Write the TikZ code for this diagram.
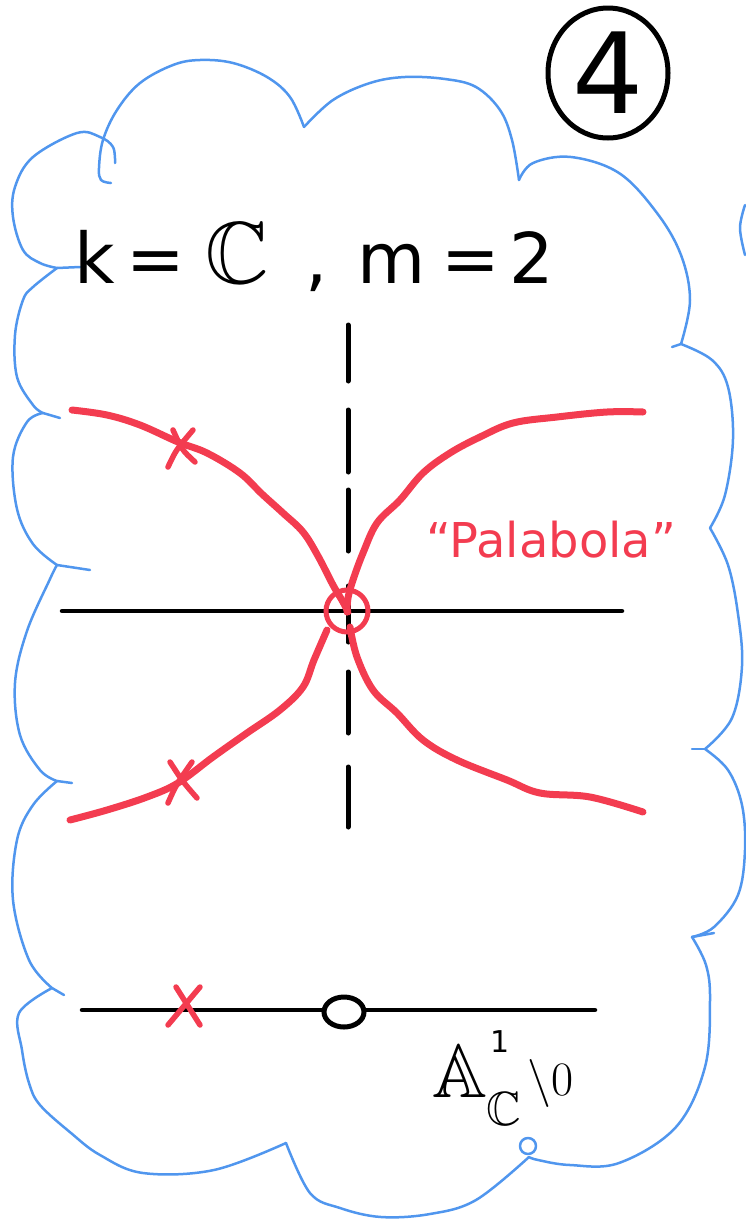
\RequirePackage{fix-cm}
\documentclass[tikz,border=0pt]{standalone}
\usepackage{amssymb}
\usepackage{fontspec}
\setmainfont{DejaVu Sans}
\usetikzlibrary{shapes.geometric}
\definecolor{sred}{RGB}{243,60,80}
\definecolor{cblue}{RGB}{80,150,238}
\begin{document}
\begin{tikzpicture}[x=1pt,y=-1pt,
  cloudline/.style={draw=cblue,line width=2.5pt,line cap=round,line join=round},
  redcurve/.style={draw=sred,line width=7pt,line cap=round,line join=round},
  redx/.style={draw=sred,line width=5.5pt,line cap=round},
  axisline/.style={draw=black,line width=4.5pt,line cap=round},
  dashseg/.style={draw=black,line width=5pt,line cap=round},
  txt/.style={anchor=base west,inner sep=0pt}]
\useasboundingbox (0,0) rectangle (745,1227);
% ---------- cloud ----------
\draw[cloudline] plot[smooth,tension=0.6] coordinates {(111,183) (101,180) (99,168) (103,140) (117,110) (140,83) (173,65) (200,60) (233,63) (267,77) (290,97) (304,127)};
\draw[cloudline] plot[smooth,tension=0.6] coordinates {(304,127) (333,100) (370,83) (405,77) (445,79) (476,87) (500,110) (512,140) (519,180)};
\draw[cloudline] plot[smooth,tension=0.6] coordinates {(519,180) (533,163) (571,157) (619,173) (657,213) (681,255) (690,300) (681,344)};
\draw[cloudline] (681,344) -- (672,347);
\draw[cloudline] plot[smooth,tension=0.6] coordinates {(681,344) (712,360) (728,387) (733,439) (725,495) (710,528)};
\draw[cloudline] plot[smooth,tension=0.6] coordinates {(710,528) (728,565) (738,614) (742,666) (732,718) (705,749)};
\draw[cloudline] (705,749) -- (692,749);
\draw[cloudline] plot[smooth,tension=0.6] coordinates {(705,749) (728,770) (742,805) (745,850) (738,895) (714,927) (692,937)};
\draw[cloudline] (692,937) -- (714,933);
\draw[cloudline] plot[smooth,tension=0.6] coordinates {(692,937) (706,965) (710,1000) (705,1067) (676,1127) (619,1163) (570,1165) (538,1160) (529,1157)};
\draw[cloudline] (528,1146) circle[radius=8];
\draw[cloudline] plot[smooth,tension=0.6] coordinates {(529,1157) (476,1200) (430,1214) (381,1217) (340,1208) (310,1193) (286,1143)};
\draw[cloudline] plot[smooth,tension=0.6] coordinates {(286,1143) (214,1170) (143,1173) (100,1155) (71,1133) (40,1105) (29,1083) (22,1050) (19,1013) (52,988)};
\draw[cloudline] (52,988) -- (64,995);
\draw[cloudline] plot[smooth,tension=0.6] coordinates {(52,988) (29,960) (13,900) (17,840) (33,805) (57,781)};
\draw[cloudline] (57,781) -- (72,783);
\draw[cloudline] plot[smooth,tension=0.6] coordinates {(57,781) (40,770) (20,735) (15,683) (27,631) (50,579) (57,565)};
\draw[cloudline] (57,565) -- (90,570);
\draw[cloudline] plot[smooth,tension=0.6] coordinates {(57,565) (33,544) (17,509) (13,457) (27,422) (43,413)};
\draw[cloudline] (43,413) -- (60,418);
\draw[cloudline] plot[smooth,tension=0.6] coordinates {(43,413) (33,405) (17,377) (15,335) (23,300) (33,287) (57,268)};
\draw[cloudline] (57,268) -- (80,267);
\draw[cloudline] plot[smooth,tension=0.6] coordinates {(57,268) (40,263) (23,250) (13,217) (15,187) (33,157) (77,133) (100,137) (113,147) (115,163)};
\draw[cloudline] plot[smooth,tension=0.6] coordinates {(745,205) (740,228) (745,255)};
% ---------- circled number ----------
\node[ellipse,draw=black,line width=5pt,minimum width=120pt,minimum height=130pt,inner sep=0pt,font=\fontsize{112}{120}\selectfont] (num) at (608,73) {4};
% ---------- heading ----------
\node[txt,font=\fontsize{70}{80}\selectfont] (head) at (74,283)
  {k\hspace{12pt}=\hspace{20pt}{\fontsize{88}{96}\selectfont$\mathbb{C}$}\hspace{37pt},\hspace{29pt}m\hspace{16pt}=\hspace{9pt}2};
% ---------- axes ----------
\coordinate (hl) at (62,611);
\coordinate (hr) at (622,611);
\draw[axisline] (hl) -- (hr);
\foreach \ya/\yb in {325/381,410/472,490/551,586/642,672/733,767/827}
  \draw[dashseg] (348,\ya) -- (348,\yb);
% ---------- red curves ----------
\draw[redcurve] plot[smooth,tension=0.6] coordinates {(72,410) (107,415) (140,425) (178,442) (207,453) (240,473) (262,494) (283,513) (303,532) (318,556) (333,585) (343,602) (348,612)};
\draw[redcurve] plot[smooth,tension=0.6] coordinates {(70,820) (107,810) (147,797) (178,783) (213,757) (247,733) (280,710) (303,687) (314,660) (327,630)};
\draw[redcurve] plot[smooth,tension=0.6] coordinates {(643,412) (607,412) (557,417) (513,423) (480,437) (450,453) (423,473) (400,500) (377,523) (363,553) (353,580) (348,598) (347,612)};
\draw[redcurve] plot[smooth,tension=0.6] coordinates {(350,627) (357,657) (373,690) (397,713) (423,740) (457,760) (507,780) (540,793) (590,797) (643,812)};
\node[circle,draw=sred,line width=5pt,minimum size=42pt,inner sep=0pt] (orig) at (347,611) {};
% crosses
\draw[redx] (168,467) .. controls (176,450) .. (193,430);
\draw[redx] (173,430) .. controls (182,450) .. (195,462);
\draw[redx] (168,803) .. controls (176,785) .. (192,762);
\draw[redx] (170,762) .. controls (183,782) .. (197,798);
% label
\node[txt,text=sred,font=\fontsize{48}{56}\selectfont] (para) at (426,557) {``Palabola''};
% ---------- bottom line ----------
\coordinate (bl) at (82,1010);
\coordinate (br) at (595,1010);
\draw[axisline] (bl) -- (br);
\draw[redx] (176,987) -- (200,1025);
\draw[redx] (200,987) -- (168,1025);
\node[ellipse,draw=black,fill=white,line width=5pt,minimum width=40pt,minimum height=30pt,inner sep=0pt] (pt) at (344,1012) {};
\node[txt,font=\fontsize{76}{90}\selectfont] (lblA) at (432,1097) {$\mathbb{A}$};
\node[txt,font=\fontsize{30}{36}\selectfont] (lblsup) at (490,1052) {1};
\node[txt,font=\fontsize{48}{56}\selectfont] (lblsub) at (486,1125) {$\mathbb{C}$};
\node[txt,font=\fontsize{48}{56}\selectfont] (minus0) at (527,1095) {$\setminus 0$};
\end{tikzpicture}
\end{document}
